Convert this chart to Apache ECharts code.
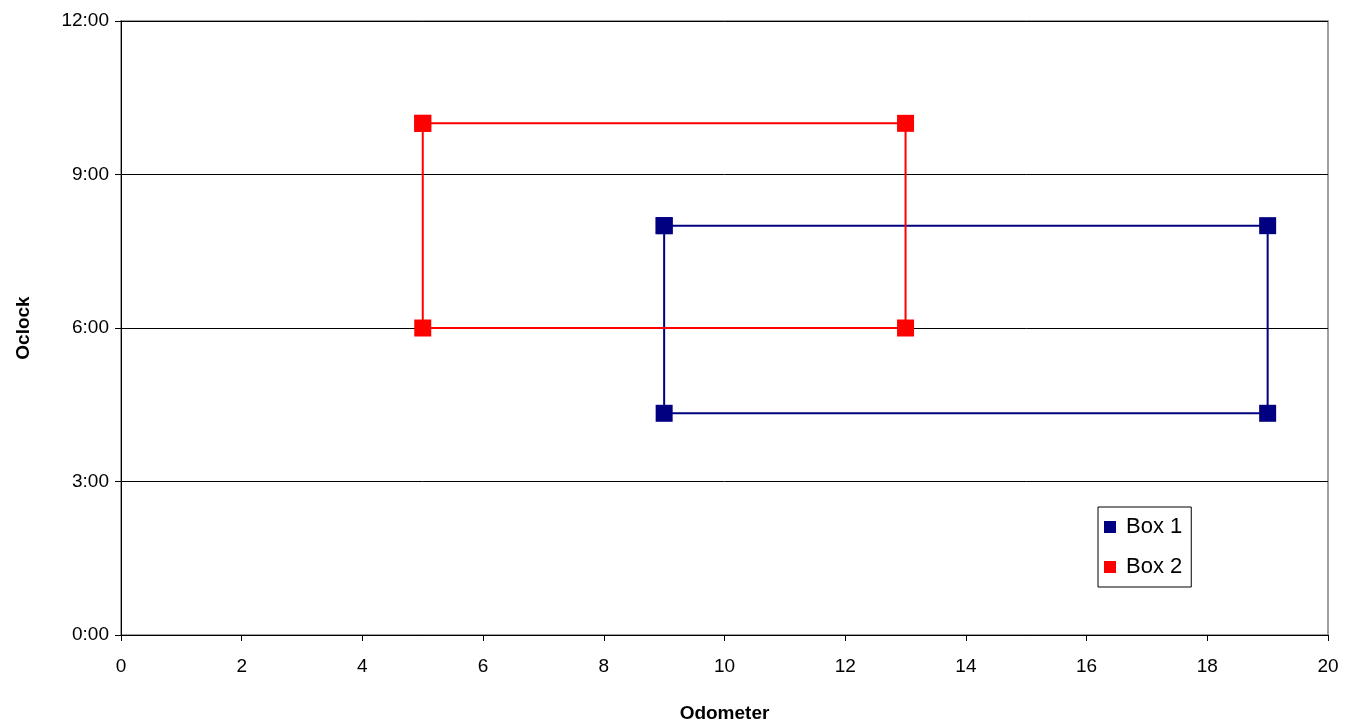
<!DOCTYPE html>
<html><head><meta charset="utf-8">
<script src="https://cdn.jsdelivr.net/npm/echarts@6/dist/echarts.min.js"></script>
<style>html,body{margin:0;padding:0;background:#fff}#c{width:1347px;height:725px}</style>
</head><body><div id="c"></div>
<script>
const box1X = [9, 19, 19, 9, 9];
const box1Y = [8, 8, 4.333, 4.333, 8];   // hours
const box2X = [5, 13, 13, 5, 5];
const box2Y = [10, 10, 6, 6, 10];        // hours
const seriesNames = ['Box 1', 'Box 2'];
const colors = ['#000080', '#FF0000'];

function pairs(xs, ys){ return xs.map((x,i)=>[x, ys[i]]); }
function fmtTime(v){ const h=Math.floor(v+1e-9); const m=Math.round((v-h)*60); return h+':'+(m<10?'0':'')+m; }

const chart = echarts.init(document.getElementById('c'));
const font = 'Arial, "Liberation Sans", sans-serif';
chart.setOption({
  animation:false,
  backgroundColor:'#fff',
  grid:{left:121,right:19,top:21,bottom:90,show:true,borderColor:'#808080',borderWidth:1.5,
    containLabel:false,outerBoundsMode:'none'},
  xAxis:{type:'value',min:0,max:20,interval:2,name:'Odometer',nameLocation:'middle',nameGap:69,
    nameTextStyle:{fontFamily:font,fontSize:19,fontWeight:'bold',color:'#000'},
    axisLine:{show:true,onZero:false,lineStyle:{color:'#000',width:1}},
    axisTick:{show:true,inside:false,length:6,lineStyle:{color:'#000'}},
    axisLabel:{fontFamily:font,fontSize:19,color:'#000',margin:22},
    splitLine:{show:false}},
  yAxis:{type:'value',min:0,max:12,interval:3,name:'Oclock',nameLocation:'middle',nameGap:88,nameRotate:90,
    nameTextStyle:{fontFamily:font,fontSize:19,fontWeight:'bold',color:'#000'},
    axisLine:{show:true,onZero:false,lineStyle:{color:'#000',width:1}},
    axisTick:{show:true,inside:false,length:6,lineStyle:{color:'#000'}},
    axisLabel:{fontFamily:font,fontSize:19,color:'#000',margin:12,formatter:fmtTime},
    splitLine:{show:true,lineStyle:{color:'#000',width:1}}},
  legend:{orient:'vertical',left:1098,top:507,backgroundColor:'#fff',borderColor:'#000',borderWidth:1,
    padding:[9,9,9,6],itemGap:18,itemWidth:12,itemHeight:12,icon:'rect',
    textStyle:{fontFamily:font,fontSize:22,lineHeight:22,color:'#000',padding:[0,0,0,5]},
    data:seriesNames},
  series:[
    {name:seriesNames[0],type:'line',data:pairs(box1X,box1Y),color:colors[0],symbol:'rect',symbolSize:17,
      lineStyle:{width:2,color:colors[0]},itemStyle:{color:colors[0]}},
    {name:seriesNames[1],type:'line',data:pairs(box2X,box2Y),color:colors[1],symbol:'rect',symbolSize:17,
      lineStyle:{width:2,color:colors[1]},itemStyle:{color:colors[1]}}
  ]
});
</script></body></html>
